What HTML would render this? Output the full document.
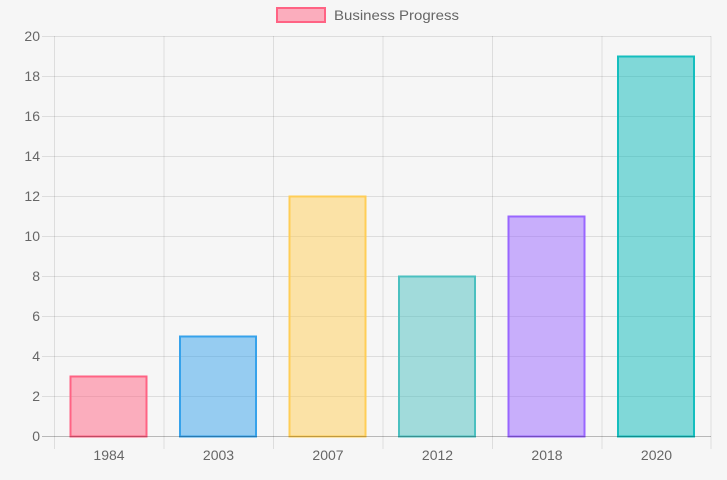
<!DOCTYPE html>
<html><head><style>html,body{margin:0;padding:0;background:#f6f6f6}svg{display:block}</style></head><body>
<svg width="727" height="480" xmlns="http://www.w3.org/2000/svg" font-family="Liberation Sans, sans-serif" font-size="14" fill="#666">
<g stroke="rgba(0,0,0,0.1)" stroke-width="1">
<line x1="42" x2="711" y1="36.5" y2="36.5"/><line x1="42" x2="711" y1="76.5" y2="76.5"/><line x1="42" x2="711" y1="116.5" y2="116.5"/><line x1="42" x2="711" y1="156.5" y2="156.5"/><line x1="42" x2="711" y1="196.5" y2="196.5"/><line x1="42" x2="711" y1="236.5" y2="236.5"/><line x1="42" x2="711" y1="276.5" y2="276.5"/><line x1="42" x2="711" y1="316.5" y2="316.5"/><line x1="42" x2="711" y1="356.5" y2="356.5"/><line x1="42" x2="711" y1="396.5" y2="396.5"/>
<line x1="54.5" x2="54.5" y1="36" y2="449"/><line x1="164" x2="164" y1="36" y2="449"/><line x1="273.5" x2="273.5" y1="36" y2="449"/><line x1="383" x2="383" y1="36" y2="449"/><line x1="492.5" x2="492.5" y1="36" y2="449"/><line x1="602" x2="602" y1="36" y2="449"/><line x1="711" x2="711" y1="36" y2="449"/>
</g>
<g stroke-width="2">
<rect x="70.5" y="376.5" width="76" height="60" fill="rgba(255,99,132,0.5)" stroke="rgb(255,99,132)"/>
<rect x="180" y="336.5" width="76" height="100" fill="rgba(54,162,235,0.5)" stroke="rgb(54,162,235)"/>
<rect x="289.5" y="196.5" width="76" height="240" fill="rgba(255,205,86,0.5)" stroke="rgb(255,205,86)"/>
<rect x="399" y="276.5" width="76" height="160" fill="rgba(75,192,192,0.5)" stroke="rgb(75,192,192)"/>
<rect x="508.5" y="216.5" width="76" height="220" fill="rgba(153,102,255,0.5)" stroke="rgb(153,102,255)"/>
<rect x="618" y="56.5" width="76" height="380" fill="rgba(10,185,185,0.5)" stroke="rgb(20,190,190)"/>
</g>
<line x1="42" x2="711" y1="436.5" y2="436.5" stroke="rgba(0,0,0,0.25)"/>
<g text-anchor="end">
<text x="40" y="41">20</text><text x="40" y="81">18</text><text x="40" y="121">16</text><text x="40" y="161">14</text><text x="40" y="201">12</text><text x="40" y="241">10</text><text x="40" y="281">8</text><text x="40" y="321">6</text><text x="40" y="361">4</text><text x="40" y="401">2</text><text x="40" y="441">0</text>
</g>
<g text-anchor="middle">
<text x="109" y="460">1984</text><text x="218.5" y="460">2003</text><text x="328" y="460">2007</text><text x="437.5" y="460">2012</text><text x="547" y="460">2018</text><text x="656.5" y="460">2020</text>
</g>
<rect x="277" y="8" width="48" height="14" fill="rgba(255,99,132,0.5)" stroke="rgb(255,99,132)" stroke-width="2"/>
<text x="334" y="20" textLength="125" lengthAdjust="spacingAndGlyphs">Business Progress</text>
</svg>
</body></html>
